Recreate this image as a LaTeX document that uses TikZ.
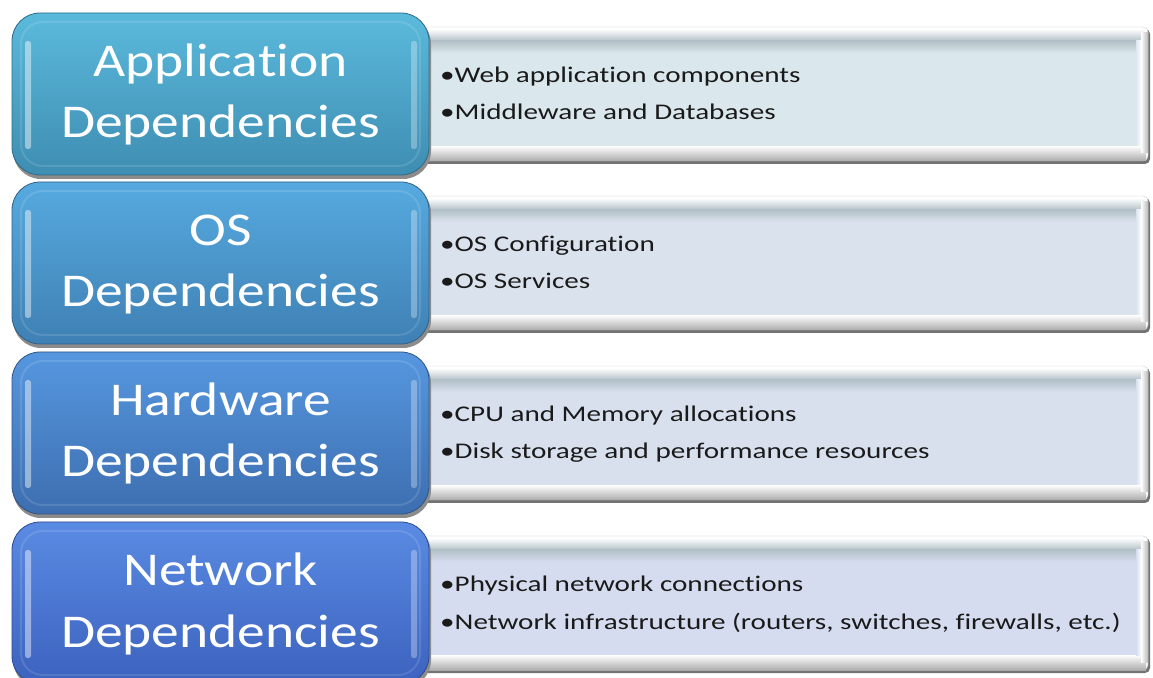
\documentclass[tikz,border=0pt]{standalone}
\usepackage{fontspec}
\setmainfont{Carlito}[Ligatures=NoCommon]
\newfontfamily\headfont[FakeStretch=1.18,Ligatures=NoCommon]{Carlito}
\newfontfamily\itemfont[FakeStretch=1.3,Ligatures=NoCommon]{Carlito}

% colour sets per layer: top / bottom of the label box, face of the detail box
\definecolor{cAtop}{HTML}{5BBADC}\definecolor{cAbot}{HTML}{3E8DB2}\definecolor{cAface}{HTML}{DAE7EC}
\definecolor{cBtop}{HTML}{56AADF}\definecolor{cBbot}{HTML}{3F80B4}\definecolor{cBface}{HTML}{DAE3ED}
\definecolor{cCtop}{HTML}{5697DF}\definecolor{cCbot}{HTML}{3D6EB0}\definecolor{cCface}{HTML}{D8E0EE}
\definecolor{cDtop}{HTML}{5A8BE3}\definecolor{cDbot}{HTML}{3C62BE}\definecolor{cDface}{HTML}{D6DCEF}
\definecolor{bevelgray}{HTML}{B3C1C8}
\definecolor{itemtext}{HTML}{1A1A1A}

\tikzset{
  headtext/.style={anchor=base, text=white, inner sep=0pt,
    font=\headfont\fontsize{47}{50}\selectfont},
  itemtext/.style={anchor=base west, text=itemtext, inner sep=0pt,
    font=\itemfont\fontsize{22.4}{26}\selectfont},
}

% #1 name, #2 top edge (px from top), #3 colour key, #4/#5 title lines, #6/#7 items
\newcommand\deplayer[7]{%
  \pgfmathsetmacro\T{677-#2}%
  % detail box: drop shadow, light rim, bevels and face
  \fill[black!55, rounded corners=5] (415,\T-151) rectangle (1150,\T-16);
  \fill[white!94!c#3face, draw=gray!35, rounded corners=5] (415,\T-148) rectangle (1148,\T-14);
  \shade[top color=white, bottom color=bevelgray] (415,\T-16) rectangle (1144,\T-28);
  \shade[top color=white, bottom color=gray!65] (415,\T-133) rectangle (1146,\T-148);
  \fill[c#3face] (415,\T-28) rectangle (1140,\T-133);
  \shade[top color=bevelgray, bottom color=c#3face] (415,\T-28) rectangle (1140,\T-40);
  \shade[left color=c#3face, right color=white] (1136,\T-28) rectangle (1141,\T-133);
  \shade[left color=white, right color=gray!55] (1141,\T-20) rectangle (1148,\T-140);
  \node[itemtext] (#1-item1) at (440,\T-70) {•#6};
  \node[itemtext] (#1-item2) at (440,\T-107) {•#7};
  % label box: shadow, glossy body, rim and highlights
  \fill[black!45, rounded corners=28] (13,\T-166) rectangle (431,\T-3);
  \shade[rounded corners=28, top color=c#3top, bottom color=c#3bot] (12,\T) rectangle (429,\T-162);
  \draw[c#3bot!75!black, line width=0.8, rounded corners=28] (12,\T) rectangle (429,\T-162);
  \draw[white, opacity=0.12, line width=2, rounded corners=22] (21,\T-9) rectangle (420,\T-153);
  \fill[white, opacity=0.45, rounded corners=2.5] (25,\T-28) rectangle (31,\T-136);
  \fill[white, opacity=0.3, rounded corners=2.5] (411,\T-28) rectangle (417,\T-136);
  \node[headtext] (#1-title1) at (220.5,\T-64) {#4};
  \node[headtext] (#1-title2) at (220.5,\T-125) {#5};
}

\begin{document}
\begin{tikzpicture}[x=1pt,y=1pt]
  \useasboundingbox (0,0) rectangle (1153,677);
  \fill[white] (0,0) rectangle (1153,677);
  \deplayer{app}{13}{A}{Application}{Dependencies}{Web application components}{Middleware and Databases}
  \deplayer{os}{182}{B}{OS}{Dependencies}{OS Configuration}{OS Services}
  \deplayer{hw}{352}{C}{Hardware}{Dependencies}{CPU and Memory allocations}{Disk storage and performance resources}
  \deplayer{net}{522}{D}{Network}{Dependencies}{Physical network connections}{Network infrastructure (routers, switches, firewalls, etc.)}
\end{tikzpicture}
\end{document}
